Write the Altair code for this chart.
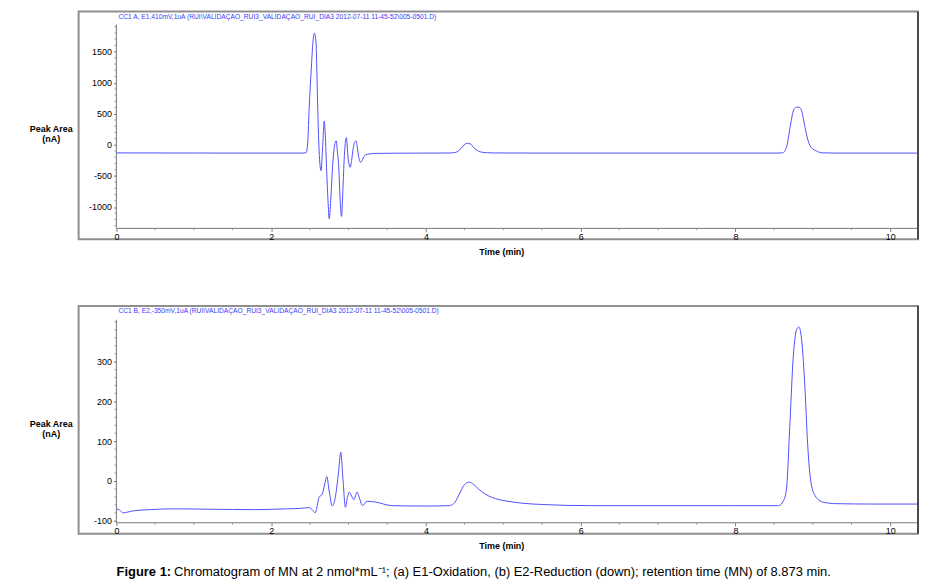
import altair as alt
import pandas as pd

# ---------------- data ----------------
# (a) E1-Oxidation
t_a = [0.00, 0.50, 1.00, 1.50, 2.00, 2.40, 2.45, 2.47, 2.49, 2.52, 2.54, 2.56, 2.58, 2.60,
       2.62, 2.645, 2.665, 2.686, 2.70, 2.716, 2.735, 2.751, 2.77, 2.793, 2.815, 2.84,
       2.857, 2.874, 2.893, 2.909, 2.925, 2.943, 2.958, 2.973, 2.99, 3.005, 3.021, 3.04,
       3.06, 3.08, 3.098, 3.115, 3.13, 3.158, 3.19, 3.222, 3.28, 3.35, 3.60, 4.00, 4.30,
       4.36, 4.42, 4.48, 4.53, 4.57, 4.63, 4.70, 4.78, 4.90, 5.50, 6.00, 7.00, 8.00, 8.55,
       8.61, 8.66, 8.706, 8.748, 8.78, 8.81, 8.84, 8.856, 8.90, 8.94, 8.98, 9.05, 9.11,
       9.30, 10.00, 10.36]
v_a = [-130, -131, -132, -133, -133, -133, -128, -20, 550, 1250, 1650, 1795, 1650, 700,
       -100, -416, -50, 384, 150, -363, -900, -1190, -900, -363, -50, 64,
       -120, -363, -900, -1152, -800, -256, 20, 117, -150, -300, -363, -250,
       -60, 40, 64, -50, -180, -283, -210, -160, -145, -138, -135, -133, -132,
       -127, -100, -20, 25, 18, -60, -112, -127, -131, -133, -133, -133, -133, -133,
       -128, -43, 277, 544, 600, 608, 590, 544, 277, 64, -43, -100, -128,
       -133, -133, -133]

# (b) E2-Reduction
t_b = [0.00, 0.04, 0.09, 0.15, 0.22, 0.44, 0.74, 1.20, 1.80, 2.20, 2.37, 2.49, 2.53, 2.57,
       2.60, 2.62, 2.66, 2.69, 2.72, 2.75, 2.79, 2.83, 2.87, 2.90, 2.93, 2.96, 2.985, 3.01,
       3.04, 3.07, 3.11, 3.145, 3.18, 3.24, 3.35, 3.56, 4.00, 4.30, 4.36, 4.42, 4.47, 4.51,
       4.56, 4.62, 4.68, 4.76, 4.85, 4.95, 5.06, 5.25, 5.49, 6.13, 7.00, 8.00, 8.556, 8.62,
       8.66, 8.705, 8.748, 8.79, 8.82, 8.856, 8.90, 8.93, 8.97, 9.03, 9.13, 9.30, 9.80, 10.36]
v_b = [-70, -73, -80, -78, -75, -72, -70, -71, -72, -70, -69, -67, -72, -80,
       -58, -41, -33, -10, 11, -25, -63, -40, 20, 72, 0, -66, -42, -28,
       -38, -47, -28, -45, -62, -51, -53, -62, -63, -62, -57, -38, -18, -7,
       -3, -9, -20, -32, -41, -47, -51, -56, -59, -62, -62, -62, -62, -50,
       -20, 147, 313, 380, 387, 355, 230, 105, 5, -37, -53, -57, -58, -58]

header_a = "CC1 A, E1,410mV,1uA (RUI\\VALIDAÇAO_RUI3_VALIDAÇAO_RUI_DIA3 2012-07-11 11-45-52\\005-0501.D)"
header_b = "CC1 B, E2,-350mV,1uA (RUI\\VALIDAÇAO_RUI3_VALIDAÇAO_RUI_DIA3 2012-07-11 11-45-52\\005-0501.D)"
caption_bold = "Figure 1:"
caption_rest = "Chromatogram of MN at 2 nmol*mL\u207b\u00b9; (a) E1-Oxidation, (b) E2-Reduction (down); retention time (MN) of 8.873 min."

# labelled (major) ticks
x_major = [0, 2, 4, 6, 8, 10]
y_major_a = [-1000, -500, 0, 500, 1000, 1500]
y_major_b = [-100, 0, 100, 200, 300]
# unlabelled (minor) ticks
x_minor = [0.5, 1, 1.5, 2.5, 3, 3.5, 4.5, 5, 5.5, 6.5, 7, 7.5, 8.5, 9, 9.5]
y_minor_a = [v for v in range(-1300, 2000, 100) if v % 500 != 0]
y_minor_b = [v for v in range(-100, 420, 20) if v % 100 != 0 or v > 300]

X_DOMAIN = [-0.488, 10.36]
A_DOMAIN = [-1520, 2144]
A_AXIS = [-1344, 1936]
B_DOMAIN = [-132.5, 440]
B_AXIS = [-105, 405]

FONT = "Liberation Sans"
LINE_COLOR = "#4f4fff"
AXIS_COLOR = "#777777"


def panel(t, v, ydom, yaxis_span, ymajor, yminor, header, caption=False):
    df = pd.DataFrame({"t": t, "v": v})
    xs = alt.Scale(domain=X_DOMAIN, nice=False, zero=False)
    ys = alt.Scale(domain=ydom, nice=False, zero=False)

    xaxis = alt.Axis(
        values=x_major, offset=-11, domain=False, grid=False,
        labelExpr="toString(datum.value)",
        labelFlush=False, labelPadding=1, tickSize=3,
        title="Time (min)", titleX=425, titleY=26, titleAlign="center",
        titleBaseline="alphabetic", titleFontWeight="bold", titleFontSize=9,
    )
    yaxis = alt.Axis(
        values=ymajor, offset=-38, domain=False, grid=False,
        labelExpr="toString(datum.value)",
        labelFlush=False, labelPadding=2, tickSize=3,
        title=["Peak Area", "(nA)"], titleAngle=0, titleX=-66, titleY=121,
        titleAlign="center", titleBaseline="alphabetic", titleLineHeight=10,
        titleFontWeight="bold", titleFontSize=9,
    )

    ydf = pd.DataFrame({"t": [0], "y1": [yaxis_span[0]], "y2": [yaxis_span[1]]})
    yrule = alt.Chart(ydf).mark_rule(color=AXIS_COLOR, strokeWidth=1).encode(
        x=alt.X("t:Q", scale=xs), y=alt.Y("y1:Q", scale=ys), y2="y2:Q"
    )
    xdf = pd.DataFrame({"t1": [0], "t2": [X_DOMAIN[1]], "y": [yaxis_span[0]]})
    xrule = alt.Chart(xdf).mark_rule(color=AXIS_COLOR, strokeWidth=1).encode(
        x=alt.X("t1:Q", scale=xs), x2="t2:Q", y=alt.Y("y:Q", scale=ys)
    )
    line = alt.Chart(df).mark_line(
        color=LINE_COLOR, strokeWidth=1, interpolate="monotone"
    ).encode(
        x=alt.X("t:Q", scale=xs, axis=xaxis),
        y=alt.Y("v:Q", scale=ys, axis=yaxis),
    )

    ymdf = pd.DataFrame({"t": [0] * len(yminor), "y": yminor})
    ymin_ticks = alt.Chart(ymdf).mark_tick(
        orient="horizontal", size=2, thickness=1, color=AXIS_COLOR, xOffset=-1
    ).encode(x=alt.X("t:Q", scale=xs), y=alt.Y("y:Q", scale=ys))
    xmdf = pd.DataFrame({"t": x_minor, "y": [yaxis_span[0]] * len(x_minor)})
    xmin_ticks = alt.Chart(xmdf).mark_tick(
        orient="vertical", size=2, thickness=1, color=AXIS_COLOR, yOffset=1
    ).encode(x=alt.X("t:Q", scale=xs), y=alt.Y("y:Q", scale=ys))

    rdf = pd.DataFrame({"t": [X_DOMAIN[1]]})
    redge = alt.Chart(rdf).mark_rule(color="#4a4a4a", strokeWidth=2).encode(
        x=alt.X("t:Q", scale=xs)
    )

    hdf = pd.DataFrame({"label": [header]})
    htext = alt.Chart(hdf).mark_text(
        align="left", baseline="middle", font=FONT, fontSize=6.7, color="#3a3aff"
    ).encode(x=alt.value(40), y=alt.value(5), text="label:N")

    layers = [yrule, xrule, line, ymin_ticks, xmin_ticks, redge, htext]
    if caption:
        cdf1 = pd.DataFrame({"label": [caption_bold]})
        cdf2 = pd.DataFrame({"label": [caption_rest]})
        c1 = alt.Chart(cdf1).mark_text(
            align="right", baseline="alphabetic", font=FONT, fontSize=13,
            fontWeight="bold", color="black"
        ).encode(x=alt.value(93), y=alt.value(272), text="label:N")
        c2 = alt.Chart(cdf2).mark_text(
            align="left", baseline="alphabetic", font=FONT, fontSize=13, color="black"
        ).encode(x=alt.value(96), y=alt.value(272), text="label:N")
        layers += [c1, c2]

    return alt.layer(*layers).properties(width=844, height=229)


top = panel(t_a, v_a, A_DOMAIN, A_AXIS, y_major_a, y_minor_a, header_a)
bottom = panel(t_b, v_b, B_DOMAIN, B_AXIS, y_major_b, y_minor_b, header_b, caption=True)

chart = alt.vconcat(top, bottom, spacing=47).properties(
    padding={"left": 20, "top": 0, "right": 0, "bottom": 0}
).configure_view(
    stroke="#8f8f8f", strokeWidth=2
).configure_axis(
    labelFont=FONT, labelFontSize=9, labelColor="black",
    tickColor=AXIS_COLOR, titleFont=FONT, titleColor="black",
)

chart.save("out.html", embed_options={"renderer": "svg", "actions": False})
